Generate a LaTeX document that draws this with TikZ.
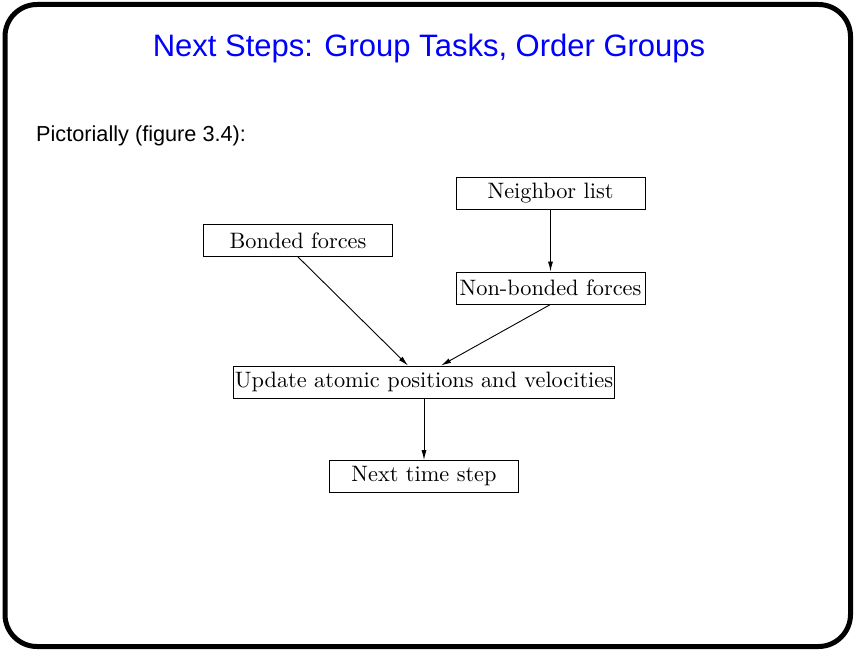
\documentclass[tikz,border=0pt]{standalone}
\usepackage{fontspec}
\setsansfont{Liberation Sans}
\newfontfamily\boxfont[Extension=.otf]{lmroman10-regular}
\usetikzlibrary{arrows.meta}
\definecolor{titleblue}{RGB}{0,0,255}
\tikzset{
  taskbox/.style={draw=black, line width=0.9pt, minimum width=189pt, minimum height=32pt, inner sep=1pt, font=\fontsize{22.3}{24}\selectfont\boxfont},
  flow/.style={draw=black, line width=0.9pt, -{Latex[length=10pt,width=5pt]}}
}
\begin{document}
\begin{tikzpicture}[x=1pt,y=-1pt]
\useasboundingbox (0,0) rectangle (854,652);
\draw[line width=5pt, rounded corners=32pt] (5,4.5) rectangle (850.5,646.5);
\node[anchor=base, text=titleblue, font=\fontsize{31}{34}\selectfont\sffamily, inner sep=0pt] (title) at (429,57) {Next Steps: Group Tasks, Order Groups};
\node[anchor=base west, font=\fontsize{21.7}{24}\selectfont\sffamily, inner sep=0pt] (intro) at (36,142) {Pictorially (figure 3.4):};
\node[taskbox] (nl) at (550.5,193) {Neighbor list};
\node[taskbox] (bf) at (298,240.5) {Bonded forces};
\node[taskbox] (nbf) at (550.5,288) {Non-bonded forces};
\node[taskbox, minimum width=0pt] (up) at (424,382) {Update atomic positions and velocities};
\node[taskbox] (nts) at (424,476.5) {Next time step};
\draw[flow] (nl) -- (nbf);
\draw[flow] (bf.south) -- (up.north -| 408,0);
\draw[flow] (nbf.south) -- (up.north -| 441,0);
\draw[flow] (up) -- (nts);
\end{tikzpicture}
\end{document}
